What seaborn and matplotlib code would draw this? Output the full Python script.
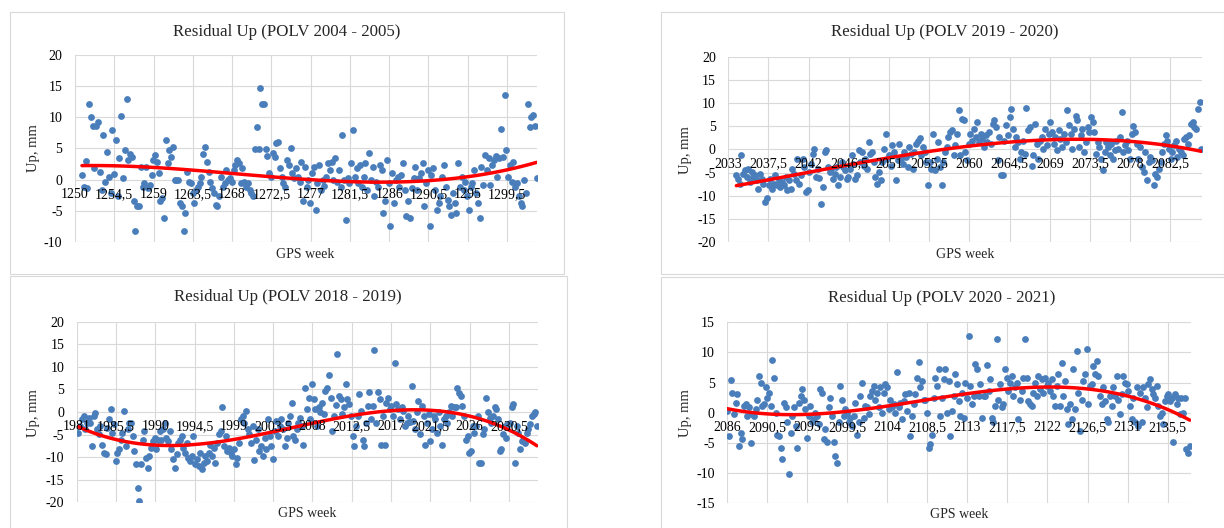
import numpy as np
import pandas as pd
import matplotlib
matplotlib.use("Agg")
import matplotlib.pyplot as plt
import seaborn as sns
from matplotlib.patches import Rectangle

# ==========================================
# THEME
# ==========================================
sns.set_style("white")
plt.rcParams['font.family'] = ['Liberation Serif', 'DejaVu Serif']

W, H = 1224, 528
DOT_COLOR = "#4A7EBB"
TREND_COLOR = "#FF0000"
GRID_COLOR = "#D9D9D9"

# ==========================================
# DATA (daily residuals, mm)
# ==========================================
titles = ["Residual Up (POLV 2004 - 2005)", "Residual Up (POLV 2019 - 2020)",
          "Residual Up (POLV 2018 - 2019)", "Residual Up (POLV 2020 - 2021)"]

# first and last GPS week of each series
weeks_2004 = [1250.8, 1302.9]
weeks_2019 = [2033.9, 2085.95]
weeks_2018 = [1981.2, 2033.7]
weeks_2020 = [2086.0, 2138.0]

up_2004 = [0.75, -1.1, 3.0, -1.4, 12.2, 10.0, 8.6, 1.8, 8.6, 9.3, 1.2, -1.7, 7.2, -0.3, 4.4, 0.5, -2.2, 7.9, 0.9, 6.4, -2.7, 3.4, 10.2,
           0.2, 4.8, 13.0, 3.2, 4.1, 3.7, -3.5, -8.2, -4.3, -4.3, 2.1, -1.1, -0.6, 2.1, -1.4, -0.9, 0.75, 3.2, 4.0, 2.9, 1.0, -3.5, -3.0, -6.2, 6.4, 2.6,
           4.8, 3.7, 5.2, 0.0, 0.0, 0.0, -3.8, -4.3, -8.2, -5.4, 1.3, -0.3, -0.6, -2.2, -3.8, -1.7, -1.1, -0.6, 0.5, 4.1, 5.3,
           2.9, 1.3, -0.3, -1.4, -2.2, -4.1, -4.3, -2.7, 0.5, -1.1, -0.6, 1.6, 0.0, 0.2, -0.3, 1.6, 2.4, 3.2, 2.6, -0.6,
           1.8, -0.3, -1.1, -0.6, -1.7, -2.2, -2.7, 4.9, 8.4, 4.9, 14.7, 12.2, 12.1, 4.9, 3.8, 1.0, 0.5, 4.2, 3.7, 5.9, 6.0, 1.8, 0.5, -0.6,
           -1.1, 3.2, 2.4, 5.0, 1.0, 0.2, 1.8, 0.5, -0.3, 2.9, -3.5, 2.1, -1.1, 0.0, -3.8, 1.0, 2.1, -4.9, -0.6, 2.4, -1.7,
           0.0, -1.0, 0.5, 2.6, 1.6, 2.9, 0.0, 3.4, -0.3, 1.6, -1.1, 7.2, 0.0, -6.4, 0.2, -0.6, 2.6, 7.9, 0.5, 1.8, -0.6,
           2.4, -1.1, 0.5, 2.6, -1.7, 4.3, 0.0, 2.1, -2.7, -0.3, -1.1, 2.4, 1.6, -5.4, -3.5, 3.2, -0.6, -7.4, 1.0, -3.8,
           0.0, 0.5, -1.1, 0.75, 2.6, -1.7, -5.9, -3.5, -6.2, -1.4, 0.2, 2.1, -1.7, 0.2, 1.0, 2.6, -4.3, -0.6, 1.6, -7.4,
           0.75, 1.8, -1.7, -4.9, -3.8, -2.7, 0.5, 2.4, -1.1, -3.3, -4.3, -5.7, -2.2, -3.8, -5.4, 2.6, -1.1, 0.5, -1.7, -0.3, -2.7,
           -4.9, -1.1, -0.6, 1.6, -2.2, -3.8, -6.2, 2.1, -0.9, 4.0, 1.6, 3.4, -0.9, 2.4, 3.2, 3.8, 0.5, 3.4, 8.1, 3.7, 13.6, 4.8,
           0.5, 2.4, -0.3, 2.9, -1.1, -0.6, -2.7, -3.8, -4.2, 0.0, -2.2, 12.1, 8.4, 10.1, 10.4, 8.6, 0.2]

up_2019 = [-5.6, -6.3, -7.4, -1.3, -5.3, -4.5, -6.0, -4.2, -7.1, -4.9, -6.0, -5.6, -6.7, -8.5, -5.3, -6.3, -7.4, -11.4, -10.6,
           -7.8, -6.3, -8.5, -7.4, -5.6, -7.8, -6.7, -8.1, -7.1, -7.8, -6.0, -8.8, -6.7, -8.5, -4.2, -5.3, -6.7, -2.0, -7.4, -5.6, -2.0, -3.8, -9.2, -8.8,
           -4.9, -3.1, -0.9, 0.1, -6.0, -4.2, -6.2, -11.9, -8.1, -0.6, -0.2, -3.8, -4.9, -4.2, -6.3, -5.3, -3.8, -7.8, -6.0, -2.7, -3.8, -4.5, -6.3,
           -6.0, -4.2, -1.2, -3.1, -6.3, -5.6, -0.2, -2.7, -0.6, -3.5, -2.0, -4.2, 1.6, -0.9, -0.6, -2.7, -6.0, -7.4, -4.9, -6.7, -2.7, 0.1, 3.4, -2.0,
           -1.3, -3.5, 0.9, -0.6, -6.7, -2.4, 1.2, -2.0, -3.1, -0.6, -1.7, -3.8, 0.5, -0.9, -4.2, -0.6, 1.2, 1.9, 2.4, -1.3, 0.5, -0.6, -2.7,
           -7.6, -2.7, -4.2, 3.4, -4.5, -2.0, 1.6, -3.8, -7.6, -2.7, -0.6, 0.5, 2.7, 3.7, 4.1, -1.3, 1.0, 3.4, 8.6, -1.3, 6.6, 6.3, -0.6, -2.4,
           1.2, 3.4, 1.9, 4.5, 2.7, 5.9, 1.6, 3.4, 2.3, 0.5, 3.0, 1.6, 3.7, 1.2, 5.5, 6.3, 4.8, -2.4, 2.7, -5.6, -5.6, 1.9, 5.2, 3.0,
           7.0, 8.8, 4.5, 0.5, 2.7, 1.6, -2.0, -0.6, 1.9, -0.9, 8.9, 4.1, 4.8, -3.5, -1.3, 5.5, 1.2, -2.0, 1.9, 2.7, 0.1, 4.5, 0.9, 3.4,
           5.9, 3.7, 1.2, 2.7, -0.2, 4.1, 2.3, 0.5, 3.4, 1.6, 8.4, 5.2, 3.4, 0.1, 4.5, 7.3, 6.3, 0.5, 3.0, 4.5, -0.6, 1.6, 4.8, 3.7,
           7.0, 5.9, 3.7, -0.9, 1.6, 0.5, -2.0, -4.5, -0.6, 1.6, 0.5, -1.3, 1.2, -2.0, -0.2, 1.9, 0.1, 2.7, 8.1, -0.6, 0.9, 1.9, -0.2, -2.0,
           3.4, 5.0, 3.7, 1.2, -2.0, 0.5, -3.8, -4.9, -0.6, -6.7, -2.7, -1.7, -2.4, -7.6, -5.3, -6.0, -4.2, -2.7, -0.6, 1.2, 3.2, 1.9, 0.1, -2.0,
           -0.6, 0.9, 1.7, -1.7, 0.1, -0.6, -1.3, 2.3, 2.7, 1.2, 3.0, 5.5, 5.9, 4.8, 4.3, 8.8, 10.2, 0.1]

up_2018 = [-4.6, -3.1, -1.6, -0.9, -3.8, -2.4, -1.3, -2.4, -7.5, -0.9, -0.3, -3.8, -4.9, -3.1, -7.2, -9.0, -9.4, -3.5, -1.6, 0.6, -4.6, -2.7, -10.8, -9.0,
           -8.3, -6.1, -4.6, 0.2, -7.5, -3.8, -2.4, -2.4, -5.3, -8.6, -11.6, -16.8, -19.7, -11.6, -6.1, -4.2, -10.1, -12.3, -9.7, -7.9, -6.4, -5.7, -8.3, -6.1,
           -4.2, -6.1, -3.8, -2.4, -5.7, -6.4, -4.2, -8.3, -10.5, -12.3, -9.4, -6.8, -6.1, -5.3, -7.9, -9.0, -6.8, -10.1, -10.8, -9.7, -5.3, -11.6,
           -10.5, -12.0, -9.0, -12.7, -11.2, -9.7, -10.8, -9.0, -7.2, -9.7, -7.9, -11.2, -6.8, -4.9, -4.2, 1.0, -7.5, -5.3, -8.6, -7.9, -9.0, -9.7, -8.3,
           -11.6, -10.1, -6.8, -1.6, -0.9, -2.4, 0.2, -3.8, -4.9, -6.8, -3.1, -10.6, -6.1, -3.8, -8.6, -7.5, -9.7, -5.7, -8.3, -1.6, -5.3, -7.5, -10.3, -4.2,
           -2.0, -5.3, -3.1, -1.6, -3.8, -7.5, -5.7, -2.4, -0.9, 2.1, -5.3, -6.1, -3.8, -2.4, -1.3, -3.1, -7.2, 5.4, 0.6, 3.2, -1.6, 6.1, 2.8,
           0.6, -3.1, 1.0, -0.1, 2.1, -0.5, 4.6, 5.4, 8.3, 3.2, -4.2, -0.9, 1.5, 12.9, 3.5, 2.8, -0.5, 1.0, 6.1, 2.8, 1.7, -0.9, -5.3, -7.5,
           -3.1, -0.9, 3.9, 0.2, -6.1, -7.5, -2.4, 1.3, 4.4, -1.6, 1.3, 13.7, -2.4, 4.4, 2.8, -7.2, -0.9, -7.2, 2.1, 3.2, 0.6, 1.3, -0.9, 10.9,
           1.7, 0.6, -1.6, 1.0, 0.3, -3.1, -2.4, -0.9, -2.2, 5.8, -2.0, -3.8, -0.1, 2.4, -4.9, 1.3, -0.9, -7.2, -2.4, -0.5, -6.4, -3.8, -0.9,
           -1.6, -4.6, -0.1, -3.1, -7.2, -1.6, -0.9, -2.4, -0.1, 1.3, -0.9, 1.0, 1.0, 5.4, 4.3, 3.5, 1.3, -0.9, -6.1, -5.3, -9.0, -8.6, -3.1,
           -4.6, -3.1, -0.9, -11.2, -11.2, -4.9, -3.8, 3.2, -0.1, -1.3, -2.4, -0.9, 1.0, 0.6, -1.6, -8.6, -8.3, -4.9, -3.1, -5.7, -2.7,
           -2.4, 1.0, 1.7, -11.2, -3.1, -4.6, -8.3, -6.4, -6.1, -6.8, -4.6, -3.8, -2.7, -0.9, -0.5, -0.1, -3.1]

up_2020 = [0.3, -3.8, 5.4, 3.3, -0.2, 1.6, 3.1, -5.5, -3.3, -4.3, 1.1, 1.4, -0.5, 0.9, -5.0, -0.2, -0.5, 0.6, 2.2, 6.1, 5.0, 1.1, 1.4, 4.2, 2.5,
           3.3, 1.1, 8.7, 5.7, 0.0, -3.6, -3.8, -5.8, -7.6, 1.7, 0.9, -1.6, -10.2, -3.3, -0.5, 0.9, -2.2, -5.8, 1.7, 2.8, 3.9, 2.2, 0.6,
           -4.1, -0.5, 1.1, -1.6, -1.1, 0.0, -0.5, -1.9, 3.9, 3.3, -4.4, -2.7, -4.9, 0.9, 2.5, -0.5, -4.8, -7.2, -8.3, -1.6, 4.4, 2.2, -0.5, 0.6,
           0.0, -1.6, -0.8, -2.2, -0.5, 1.7, -3.6, -1.6, 2.8, 5.0, -0.8, 1.1, 0.9, -0.2, 2.8, 3.6, 4.4, 2.2, 3.3, 0.9, 4.2, 0.0, 3.3, 4.7,
           4.2, 0.6, 2.2, 0.9, 1.4, 0.0, 6.8, 0.9, 1.7, -1.1, 2.0, 3.1, 0.3, 3.3, -3.8, -0.5, 1.4, 3.1, 5.8, 8.4, 4.2, 5.3, 2.2, 2.2,
           0.0, -5.8, -5.2, -3.6, 2.5, 5.8, 4.4, 7.2, -0.5, 2.5, 5.6, 7.2, 0.0, 5.3, -3.8, 0.3, 2.8, 6.4, 4.7, 2.0, -0.5, 3.3, -0.8, 5.0,
           2.5, 12.7, 4.4, 1.4, 2.8, 8.1, 7.2, 2.8, 4.7, -0.8, 2.8, 2.8, 7.9, 3.6, 5.6, -0.8, -1.6, 1.1, 12.2, 2.2, 4.7, 0.9, 1.4, 7.2, 5.8,
           3.6, 5.0, 6.1, 2.8, 4.2, 5.0, -1.1, 2.2, 3.6, 5.8, 12.3, 5.8, 2.0, 1.4, 1.1, 3.3, 5.0, 2.8, 6.1, 3.9, 5.6, 3.3, 5.8, 4.4,
           5.0, 3.6, 5.6, 2.8, 1.1, 4.4, 6.4, 1.1, 8.3, 2.8, 5.3, 0.6, -1.9, 1.4, -1.1, 7.2, 0.6, 10.2, 3.3, -3.0, 2.2, 5.3, 6.4, 10.5,
           1.4, 4.4, 4.7, 7.8, 6.4, 8.6, 6.1, 2.8, 1.4, 4.2, 2.0, -1.1, -1.6, 2.8, 1.1, 4.2, 2.8, 6.1, 2.2, -0.2, 3.1, 6.1, 5.0, 4.7,
           3.6, 1.1, -1.1, 2.5, -1.6, 4.2, -2.2, 3.3, -1.6, 4.2, 2.5, 0.9, 4.7, 5.6, 3.9, 3.1, 2.5, 4.4, 1.1, -0.5, 0.0, -1.9, 2.0, 2.8,
           3.1, 2.0, 2.5, -4.9, 3.1, 1.4, 2.5, -0.2, 2.5, 0.0, 2.5, -6.0, -6.6, -5.5]

# axis ranges (GPS week / mm)
xlims = [(1250, 1302.94), (2033, 2086.0), (1981, 2033.86), (2086, 2138.1)]
ylims = [(-10, 20), (-20, 20), (-20, 20), (-15, 15)]

# ==========================================
# LAYOUT (pixels on the 1224x528 canvas)
# ==========================================
layout = [
    dict(ax=(75, 55, 537, 242), box=(10, 12, 564, 274), title=(287, 32), ylab=(33, 148.5), xlab=(305, 254)),
    dict(ax=(728.3, 56.7, 1201.7, 242), box=(660.7, 11.7, 1223.5, 274), title=(945, 32), ylab=(685, 150), xlab=(965, 254)),
    dict(ax=(76.7, 321.7, 538.3, 502.3), box=(10, 276, 566.7, 530), title=(287.5, 296.7), ylab=(33, 413), xlab=(307, 513.3)),
    dict(ax=(727.3, 322.3, 1190.7, 503.3), box=(660.7, 277.3, 1226, 530), title=(942, 298.3), ylab=(685, 413), xlab=(958.7, 514)),
]

series = [(up_2004, weeks_2004), (up_2019, weeks_2019), (up_2018, weeks_2018), (up_2020, weeks_2020)]

fig = plt.figure(figsize=(W / 100, H / 100), dpi=100)


def week_label(v):
    return f"{v:g}".replace(".", ",")


for i, (vals, span) in enumerate(series):
    lay = layout[i]
    l, t, r, b = lay["ax"]
    ax = fig.add_axes([l / W, 1 - b / H, (r - l) / W, (b - t) / H])

    base = xlims[i][0]
    df = pd.DataFrame({"week": np.linspace(span[0], span[1], len(vals)), "up": vals})
    df["rel"] = df["week"] - base  # keeps the polynomial fit well conditioned

    sns.scatterplot(data=df, x="rel", y="up", ax=ax, color=DOT_COLOR, s=24,
                    linewidth=0, zorder=2)
    sns.regplot(data=df, x="rel", y="up", ax=ax, order=3, scatter=False, ci=None,
                truncate=True, line_kws=dict(color=TREND_COLOR, lw=2.5, zorder=3))

    ax.set_xlim(0, xlims[i][1] - base)
    ax.set_ylim(*ylims[i])
    xt = np.arange(0, xlims[i][1] - base, 4.5)
    yt = np.arange(ylims[i][0], ylims[i][1] + 1, 5)
    for v in yt:
        ax.axhline(v, color=GRID_COLOR, lw=0.8, zorder=0)
    for v in xt:
        ax.axvline(v, color=GRID_COLOR, lw=0.8, zorder=0)
    ax.set_xticks(xt)
    ax.set_xticklabels([week_label(base + v) for v in xt])
    ax.set_yticks(yt)
    ax.set_yticklabels([f"{v:g}" for v in yt])

    for s in ax.spines.values():
        s.set_visible(False)
    ax.spines['bottom'].set_position(('data', 0))
    ax.tick_params(axis='x', length=0, pad=6, labelsize=10, colors="#000000")
    ax.tick_params(axis='y', length=0, pad=9, labelsize=10, colors="#000000")
    ax.xaxis.set_zorder(5)
    ax.set_xlabel("")
    ax.set_ylabel("")
    ax.patch.set_alpha(0)

    x0, y0, x1, y1 = lay["box"]
    fig.add_artist(Rectangle((x0 / W, 1 - y1 / H), (x1 - x0) / W, (y1 - y0) / H,
                             transform=fig.transFigure, fill=False,
                             edgecolor=GRID_COLOR, lw=0.8))

    tx, ty = lay["title"]
    fig.text(tx / W, 1 - ty / H, titles[i], ha='center', va='center', fontsize=12.2)
    yx, yy = lay["ylab"]
    fig.text(yx / W, 1 - yy / H, "Up, mm", ha='center', va='center', rotation=90, fontsize=10.5)
    xx, xy = lay["xlab"]
    fig.text(xx / W, 1 - xy / H, "GPS week", ha='center', va='center', fontsize=10)

fig.savefig("out.png", dpi=100)
plt.close(fig)
